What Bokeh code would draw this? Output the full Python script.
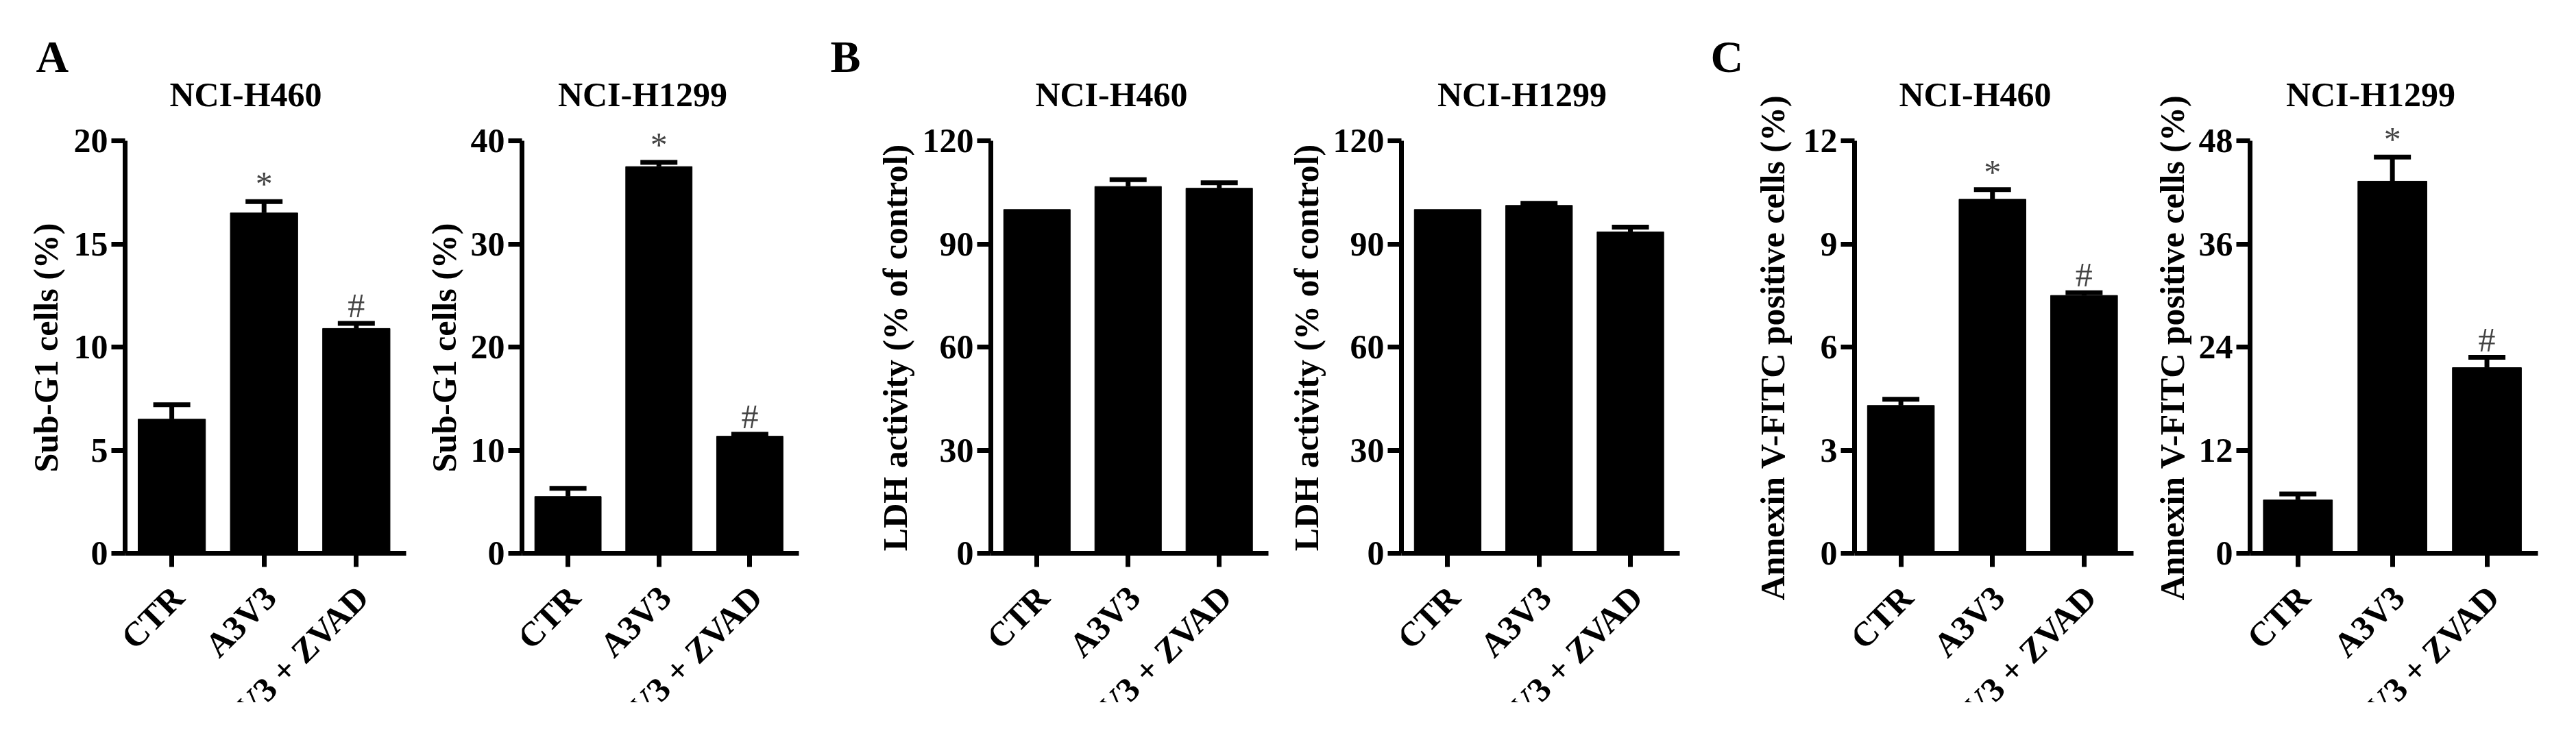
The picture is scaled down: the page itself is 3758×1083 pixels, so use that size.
import numpy as np
from bokeh.plotting import figure
from bokeh.models import (Range1d, FixedTicker, ColumnDataSource, Whisker, TeeHead,
                          LabelSet, Label, CustomJSTickFormatter)
from bokeh.layouts import row, column
from bokeh.embed import file_html
from bokeh.resources import INLINE
from bokeh.core.properties import value

# ---------------- data ----------------
categories = ["CTR", "A3V3", "A3V3 + ZVAD"]
cell_lines = ["NCI-H460", "NCI-H1299"]
panel_letters = ["A", "B", "C"]

subg1_h460 = [6.5, 16.5, 10.9]
subg1_h460_err = [0.7, 0.55, 0.25]
subg1_h1299 = [5.5, 37.5, 11.35]
subg1_h1299_err = [0.8, 0.4, 0.2]

ldh_h460 = [100.0, 106.7, 106.2]
ldh_h460_err = [0.0, 2.0, 1.6]
ldh_h1299 = [100.0, 101.2, 93.5]
ldh_h1299_err = [0.0, 0.6, 1.4]

annexin_h460 = [4.3, 10.3, 7.5]
annexin_h460_err = [0.18, 0.28, 0.08]
annexin_h1299 = [6.2, 43.3, 21.6]
annexin_h1299_err = [0.7, 2.8, 1.2]

sig_marks = ["", "*", "#"]
no_marks = ["", "", ""]

ylabel_subg1 = "Sub-G1 cells (%)"
ylabel_ldh = "LDH activity (% of control)"
ylabel_annexin = "Annexin V-FITC positive cells (%)"

yticks_subg1_h460 = [0, 5, 10, 15, 20]
yticks_subg1_h1299 = [0, 10, 20, 30, 40]
yticks_ldh = [0, 30, 60, 90, 120]
yticks_annexin_h460 = [0, 3, 6, 9, 12]
yticks_annexin_h1299 = [0, 12, 24, 36, 48]

# ---------------- layout / style ----------------
FONT = "Liberation Serif"
FS = "50px"
LW = 7
TOTAL_H = 1025      # whole drawing height
TOP_STRIP = 172     # titles
MAIN_TOP = 0
AXIS_H = 602        # pixel height of the 0..max axis
HEAD = 33           # frame room above axis top (for * and #)
MAIN_BOTTOM = 35
BOTTOM_STRIP = TOTAL_H - TOP_STRIP - MAIN_TOP - AXIS_H - HEAD - MAIN_BOTTOM
YLAB_CENTER_FROM_BOTTOM = TOTAL_H + 8 - 515

panels = [
    # values, errors, marks, ticks, ylabel, title, letter,
    # ylab strip width, ylab centre, letter x, border_left, frame_w, border_right
    (subg1_h460, subg1_h460_err, sig_marks, yticks_subg1_h460, ylabel_subg1, cell_lines[0], panel_letters[0], 104, 66, 52, 78, 410, 10),
    (subg1_h1299, subg1_h1299_err, sig_marks, yticks_subg1_h1299, ylabel_subg1, cell_lines[1], None, 75, 45, 0, 84, 404, 17),
    (ldh_h460, ldh_h460_err, no_marks, yticks_ldh, ylabel_ldh, cell_lines[0], panel_letters[1], 155, 123, 29, 108, 405, 12),
    (ldh_h1299, ldh_h1299_err, no_marks, yticks_ldh, ylabel_ldh, cell_lines[1], None, 75, 43, 0, 107, 406, 12),
    (annexin_h460, annexin_h460_err, sig_marks, yticks_annexin_h460, ylabel_annexin, cell_lines[0], panel_letters[2], 155, 123, 33, 88, 407, 15),
    (annexin_h1299, annexin_h1299_err, sig_marks, yticks_annexin_h1299, ylabel_annexin, cell_lines[1], None, 72, 41, 0, 83, 420, 30),
]


def blank(fig):
    fig.outline_line_color = None
    fig.background_fill_color = "white"
    fig.border_fill_color = "white"
    fig.grid.visible = False
    return fig


def make_panel(vals, errs, marks, ticks, ylabel, title, letter,
               wl, ylab_c, letter_x, bl, fw, br):
    x = np.arange(len(categories))
    vals = np.asarray(vals, dtype=float)
    errs = np.asarray(errs, dtype=float)
    src = ColumnDataSource(dict(x=x, top=vals, upper=vals + errs, mark=marks,
                                cat=categories, zero=np.zeros(len(x))))
    has_err = errs > 0
    err_src = ColumnDataSource(dict(x=x[has_err], top=vals[has_err],
                                    upper=(vals + errs)[has_err]))
    ymax = ticks[-1]
    x_range = Range1d(-0.506, 2.54)

    # ---- y-axis title strip (full height), also carries the panel letter ----
    yl = blank(figure(output_backend="svg", toolbar_location=None,
                      frame_width=wl, frame_height=TOTAL_H,
                      min_border_left=0, min_border_right=0,
                      min_border_top=0, min_border_bottom=0,
                      x_axis_location=None, y_axis_location=None,
                      x_range=Range1d(0, 1), y_range=Range1d(0, 1)))
    yl.add_layout(Label(x=ylab_c, y=YLAB_CENTER_FROM_BOTTOM, x_units="screen", y_units="screen",
                        text=ylabel, angle=np.pi / 2, text_align="center",
                        text_baseline="middle", text_font=FONT, text_font_style="bold",
                        text_font_size=FS, text_color="black"))
    if letter:
        yl.add_layout(Label(x=letter_x, y=TOTAL_H + 8 - 90, x_units="screen", y_units="screen",
                            text=letter, text_align="left", text_baseline="alphabetic",
                            text_font=FONT, text_font_style="bold", text_font_size="66px",
                            text_color="black"))

    # ---- title strip ----
    top = blank(figure(output_backend="svg", toolbar_location=None,
                       frame_width=fw, frame_height=TOP_STRIP,
                       min_border_left=bl, min_border_right=br,
                       min_border_top=0, min_border_bottom=0,
                       x_axis_location=None, y_axis_location=None,
                       x_range=Range1d(0, 1), y_range=Range1d(0, 1)))
    top.add_layout(Label(x=176, y=TOP_STRIP + 8 - 145, x_units="screen", y_units="screen",
                         text=title, text_align="center", text_baseline="alphabetic",
                         text_font=FONT, text_font_style="bold", text_font_size=FS,
                         text_color="black"))

    # ---- main bar chart ----
    p = blank(figure(output_backend="svg", toolbar_location=None,
                     frame_width=fw, frame_height=AXIS_H + HEAD,
                     min_border_left=bl, min_border_right=br,
                     min_border_top=MAIN_TOP, min_border_bottom=MAIN_BOTTOM,
                     x_range=x_range,
                     y_range=Range1d(0, ymax * (AXIS_H + HEAD) / AXIS_H)))

    p.vbar(x="x", top="top", width=0.73, source=src,
           fill_color="black", line_color="black")
    p.add_layout(Whisker(source=err_src, base="x", lower="top", upper="upper",
                         line_width=LW, line_color="black",
                         upper_head=TeeHead(size=54, line_width=LW, line_color="black"),
                         lower_head=None))
    p.add_layout(LabelSet(source=src, x="x", y="upper", text="mark", y_offset=9,
                          text_align="center", text_baseline="alphabetic",
                          text_font=value(FONT), text_font_size=value(FS),
                          text_color="#444444"))

    for ax in (p.xaxis[0], p.yaxis[0]):
        ax.axis_line_width = LW
        ax.axis_line_color = "black"
        ax.major_tick_line_width = LW
        ax.major_tick_line_color = "black"
        ax.major_tick_out = 20
        ax.major_tick_in = 0
        ax.minor_tick_out = 0
        ax.minor_tick_in = 0
        ax.major_label_text_font = FONT
        ax.major_label_text_font_style = "bold"
        ax.major_label_text_color = "black"
        ax.major_label_text_font_size = FS
        ax.major_label_standoff = 5

    p.xaxis.ticker = FixedTicker(ticks=list(x))
    p.xaxis.formatter = CustomJSTickFormatter(code="return ''")
    p.xaxis.major_label_text_font_size = "0px"

    p.yaxis.ticker = FixedTicker(ticks=ticks)
    p.yaxis.bounds = (ticks[0], ymax)

    # ---- category labels strip (shared x scale) ----
    b = blank(figure(output_backend="svg", toolbar_location=None,
                     frame_width=fw, frame_height=BOTTOM_STRIP,
                     min_border_left=bl, min_border_right=br,
                     min_border_top=0, min_border_bottom=0,
                     x_axis_location=None, y_axis_location=None,
                     x_range=x_range, y_range=Range1d(-1, 0)))
    b.add_layout(LabelSet(source=src, x="x", y="zero", text="cat", angle=np.pi / 4,
                          x_offset=9, y_offset=-21,
                          text_align="right", text_baseline="middle",
                          text_font=value(FONT), text_font_size=value(FS),
                          text_font_style="bold", text_color="black"))

    return row(yl, column(top, p, b, spacing=0), spacing=0)


cols = [make_panel(*pp) for pp in panels]
layout = row(*cols, spacing=0)
open("out.html", "w").write(file_html(layout, INLINE))
